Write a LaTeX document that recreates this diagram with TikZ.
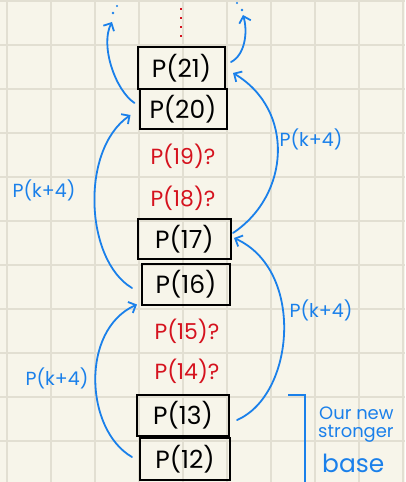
\documentclass[tikz,border=0pt]{standalone}
\usepackage{fontspec}
\setmainfont{Poppins}
\usetikzlibrary{arrows.meta,calc}
\definecolor{paper}{HTML}{F7F5EA}
\definecolor{gridc}{HTML}{E2DFD2}
\definecolor{hblue}{HTML}{1A80EA}
\definecolor{hred}{HTML}{D5121E}
\tikzset{
  pbox/.style={draw=black,line width=2bp,inner sep=0pt,font=\fontsize{25}{25}\selectfont},
  qtext/.style={text=hred,font=\fontsize{22}{22}\selectfont,inner sep=0pt},
  lbl/.style={text=hblue,font=\fontsize{19}{19}\selectfont,inner sep=0pt},
  harrow/.style={draw=hblue,line width=1.8bp,line cap=round,-{Straight Barb[length=6bp,width=12bp,line width=1.8bp]}},
}
\begin{document}
\begin{tikzpicture}[x=1bp,y=-1bp]
\useasboundingbox (0,0) rectangle (405,482);
\fill[paper] (0,0) rectangle (405,482);
\foreach \i in {0,...,9} {\draw[gridc,line width=2bp] ({7+44*\i},0) -- ({7+44*\i},482);}
\foreach \j in {0,...,10} {\draw[gridc,line width=2bp] (0,{1+44*\j}) -- (405,{1+44*\j});}
% red dotted continuation
\draw[hred,line width=2bp,dash pattern=on 2bp off 7bp] (181,8) -- (181,44);
% boxes
\node[pbox,minimum width=87bp,minimum height=42bp] (b21) at (181.5,68) {P(21)};
\node[pbox,minimum width=87bp,minimum height=40bp] (b20) at (183,109) {P(20)};
\node[pbox,minimum width=93bp,minimum height=40bp] (b17) at (184.5,239) {P(17)};
\node[pbox,minimum width=88bp,minimum height=41bp] (b16) at (186,284) {P(16)};
\node[pbox,minimum width=92bp,minimum height=41bp] (b13) at (183,415.5) {P(13)};
\node[pbox,minimum width=90bp,minimum height=42bp] (b12) at (185,459) {P(12)};
% red question texts
\node[qtext] (r19) at (183,156) {P(19)?};
\node[qtext] (r18) at (183,198) {P(18)?};
\node[qtext] (r15) at (187,331) {P(15)?};
\node[qtext] (r14) at (187,371) {P(14)?};
% free ends at top
\coordinate (tl) at (112,22);
\coordinate (tr) at (243,15);
% arrows
\draw[harrow] ([shift={(-4,-6)}]b20.west) .. controls (115,90) and (100,45) .. (tl);
\draw[harrow] ([shift={(5,-6)}]b21.east) .. controls (245,55) and (248,32) .. (tr);
\draw[harrow] ([shift={(1,-6)}]b17.east) .. controls (290,195) and (295,110) .. ([shift={(7,5)}]b21.east);
\draw[harrow] ([shift={(-9,4)}]b16.west) .. controls (85,260) and (80,150) .. ([shift={(-8,6)}]b20.west);
\draw[harrow] ([shift={(-7,-2)}]b12.west) .. controls (85,430) and (80,330) .. ([shift={(-4,-1)}]b16.south west);
\draw[harrow] ([shift={(7,4.5)}]b13.east) .. controls (295,395) and (305,270) .. ([shift={(2,-1)}]b17.east);
% little dots above the top arrows
\fill[hblue] (113,13) circle (1.3bp);
\fill[hblue] (117,6) circle (1.1bp);
\fill[hblue] (237,3) circle (1.1bp);
\fill[hblue] (242,10) circle (1.3bp);
% labels
\node[lbl] (l1) at (311,139) {P(k+4)};
\node[lbl] (l2) at (44,190) {P(k+4)};
\node[lbl] (l3) at (321,310) {P(k+4)};
\node[lbl] (l4) at (57,378) {P(k+4)};
% bracket and base text
\coordinate (bt) at (288,395);
\coordinate (bb) at (305,482);
\draw[hblue,line width=1.8bp] (bt) -- (bb|-bt) -- (bb);
\node[text=hblue,font=\fontsize{18}{18}\selectfont,anchor=west,inner sep=0pt] (t1) at (319,413) {Our new};
\node[text=hblue,font=\fontsize{18}{18}\selectfont,anchor=west,inner sep=0pt] (t2) at (318,434) {stronger};
\node[text=hblue,font=\fontsize{25}{25}\selectfont,anchor=west,inner sep=0pt] (t3) at (322,463) {base};
\end{tikzpicture}
\end{document}
